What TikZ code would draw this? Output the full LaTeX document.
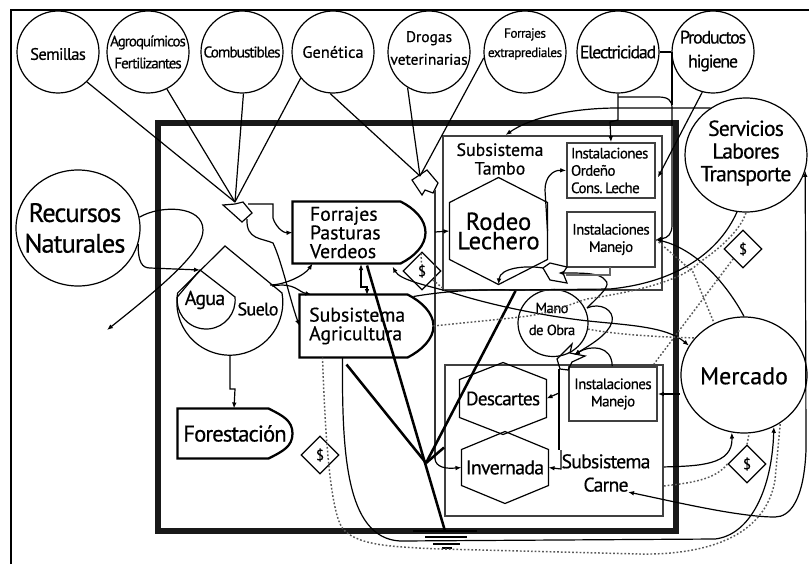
\documentclass[tikz,border=0pt]{standalone}
\usepackage{fontspec}
\setmainfont[FakeBold=0.5]{PT Sans}
\newfontfamily\tightfont[LetterSpace=-4,FakeBold=0.5]{PT Sans}
\newfontfamily\tighterfont[LetterSpace=-7,FakeBold=0.5]{PT Sans}
\usetikzlibrary{arrows.meta,shapes.geometric,calc}

\tikzset{every picture/.style={line width=0.75pt}}
\tikzset{
  input circle/.style={circle,draw,minimum size=61.5pt,inner sep=0pt,line width=0.9pt},
  big circle/.style={ellipse,draw,inner sep=0pt,line width=0.9pt},
  sub box/.style={rectangle,draw,inner sep=0pt,line width=1.4pt,draw=black!75},
  inst box/.style={rectangle,draw,inner sep=0pt,line width=1.2pt,draw=black!75,align=center,font=\tightfont\fontsize{11.3}{13}\selectfont},
  outline/.style={rectangle,inner sep=0pt,align=left},
  txt/.style={inner sep=0pt,align=center},
  money box/.style={diamond,draw,line width=0.9pt,minimum size=28.5pt,inner sep=0pt,font=\fontsize{11}{13}\selectfont},
  flow/.style={-{Latex[length=4.5pt,width=3.5pt]},line width=0.9pt},
  flowback/.style={{Latex[length=4.5pt,width=3.5pt]}-,line width=0.9pt},
  flowboth/.style={{Latex[length=4.5pt,width=3.5pt]}-{Latex[length=4.5pt,width=3.5pt]},line width=0.9pt},
  plain/.style={line width=0.9pt},
  heavy/.style={line width=1.9pt},
  money/.style={line width=1.1pt,black!65,dash pattern=on 1.3pt off 1.5pt},
}
\newcommand{\hexoutline}[2]{\draw[line width=0.9pt] (#1.north) -- ([shift={(0,#2)}]#1.north east) -- ([shift={(0,-#2)}]#1.south east) -- (#1.south) -- ([shift={(0,-#2)}]#1.south west) -- ([shift={(0,#2)}]#1.north west) -- cycle;}
\newcommand{\bulletoutline}[2]{\draw[line width=1.7pt] (#1.north west) -- ([shift={(-#2,0)}]#1.north east) .. controls +(14,7) and ([shift={(0,-13)}]#1.east) .. (#1.east) .. controls ([shift={(0,13)}]#1.east) and ([shift={(-#2+14,-7)}]#1.south east) .. ([shift={(-#2,0)}]#1.south east) -- (#1.south west) -- cycle;}

\begin{document}
\begin{tikzpicture}[x=0.75pt,y=0.75pt,yscale=-1]
\useasboundingbox (0,0) rectangle (809,564);

%Frames
\draw[line width=2.2pt] (11,564) -- (11,10) -- (809,10);
\draw[line width=5.2pt,black!90] (158,123) -- (676,123) -- (676,531) -- (158,531) -- cycle;

%Input circles
\node[input circle] (semillas) at (58,52) {};
\node[input circle] (agro) at (148,52) {};
\node[input circle] (combustibles) at (242,52) {};
\node[input circle] (genetica) at (333,52) {};
\node[input circle] (drogas) at (429,52) {};
\node[input circle] (extra) at (525,52) {};
\node[input circle] (electricidad) at (618,52) {};
\node[input circle] (productos) at (713,52) {};
\node[txt,font=\tightfont\fontsize{12.5}{14}\selectfont] (semillaslabel) at (58,54) {Semillas};
\node[txt,font=\tighterfont\fontsize{11.3}{16.5}\selectfont] (agrolabel) at (148,52) {Agroquímicos\\Fertilizantes};
\node[txt,font=\tighterfont\fontsize{11.6}{14}\selectfont] (combustibleslabel) at (242,52) {Combustibles};
\node[txt,font=\fontsize{12.3}{14}\selectfont] (geneticalabel) at (333,52) {Genética};
\node[txt,font=\fontsize{11.6}{17}\selectfont] (drogaslabel) at (429,48) {Drogas\\veterinarias};
\node[txt,font=\tightfont\fontsize{10}{14.5}\selectfont] (extralabel) at (525,44) {Forrajes\\extraprediales};
\node[txt,font=\tighterfont\fontsize{13.5}{14}\selectfont] (electricidadlabel) at (618,52) {Electricidad};
\node[txt,font=\tighterfont\fontsize{13.6}{18}\selectfont] (productoslabel) at (713,51) {Productos\\higiene};

%Outer circles
\node[big circle,minimum width=91.5pt,minimum height=85.5pt] (servicios) at (746,155) {};
\node[txt,font=\tightfont\fontsize{16.3}{17}\selectfont] (servicioslabel) at (746,153) {Servicios\\Labores\\Transporte};
\node[big circle,minimum width=93pt,minimum height=87pt] (recursos) at (78,228) {};
\node[txt,font=\tightfont\fontsize{20}{23}\selectfont] (recursoslabel) at (75,228) {Recursos\\Naturales};
\node[big circle,minimum width=94.5pt,minimum height=87pt] (mercado) at (744,375) {};
\node[txt,font=\fontsize{18}{20}\selectfont] (mercadolabel) at (744,376) {Mercado};
\node[big circle,minimum width=52.5pt,minimum height=50.25pt] (mano) at (553,323) {};
\node[txt,font=\tightfont\fontsize{11}{16.5}\selectfont] (manolabel) at (552,319) {Mano\\de Obra};

%Subsistema boxes
\node[sub box,minimum width=164.25pt,minimum height=115.5pt] (tambo) at (552.5,213) {};
\node[txt,font=\fontsize{13.4}{14}\selectfont] (tambolabel) at (500,159) {Subsistema\\Tambo};
\node[sub box,minimum width=163.5pt,minimum height=113.25pt] (carne) at (554,440.5) {};
\node[txt,font=\tightfont\fontsize{14.8}{17.5}\selectfont] (carnelabel) at (606,473) {Subsistema\\Carne};

%Instalaciones
\node[inst box,minimum width=66pt,minimum height=41.25pt] (ordeno) at (611,170.5) {\makebox[0pt]{\parbox{60pt}{Instalaciones\\Ordeño\\Cons.\,Leche}}};
\node[inst box,minimum width=66pt,minimum height=41.25pt] (manejotambo) at (611,239.5) {Instalaciones\\Manejo};
\node[inst box,minimum width=66pt,minimum height=40.5pt] (manejocarne) at (613,394) {Instalaciones\\Manejo};

%Hexagons
\node[txt,minimum width=72.75pt,minimum height=79.5pt,font=\fontsize{18.5}{14.5}\selectfont] (rodeo) at (498.5,231) {Rodeo\\Lechero};
\hexoutline{rodeo}{25}
\node[txt,minimum width=64.5pt,minimum height=53.25pt,font=\tightfont\fontsize{14.5}{17}\selectfont] (descartes) at (503,398.5) {Descartes};
\hexoutline{descartes}{17}
\node[txt,minimum width=64.5pt,minimum height=53.25pt,font=\tightfont\fontsize{15}{17}\selectfont] (invernada) at (505,467.5) {Invernada};
\hexoutline{invernada}{18}

%Bullets
\node[outline,minimum width=99pt,minimum height=45.75pt,text width=73.5pt,font=\fontsize{14.8}{14}\selectfont] (forrajes) at (359,232.5) {Forrajes\\Pasturas\\Verdeos};
\bulletoutline{forrajes}{25}
\node[outline,minimum width=99.75pt,minimum height=46.5pt,text width=86pt,font=\fontsize{14.8}{14}\selectfont] (agricultura) at (366.5,326) {Subsistema\\Agricultura};
\bulletoutline{agricultura}{26}
\node[txt,minimum width=85.5pt,minimum height=36.75pt,font=\tightfont\fontsize{17}{17}\selectfont] (forestacion) at (235,433.5) {Forestación};
\bulletoutline{forestacion}{24}

%Tanks
\coordinate (sueloapex) at (225,246);
\coordinate (aguaapex) at (200,270);
\coordinate (suelobottom) at (230,355);
\draw[line width=0.9pt] (sueloapex) -- (282,293) arc[start angle=-10,end angle=190,radius=53] -- cycle;
\draw[line width=0.9pt] (aguaapex) -- (235,297) arc[start angle=-6,end angle=186,radius=29] -- cycle;
\node[txt,font=\tightfont\fontsize{15}{14}\selectfont] (agua) at (205,300) {Agua};
\node[txt,font=\tightfont\fontsize{13.7}{14}\selectfont] (suelo) at (258,309) {Suelo};

%Money diamonds
\node[money box] (moneyforest) at (320,455) {\$};
\node[money box] (moneyservice) at (743,249) {\$};
\node[money box] (moneymarket) at (747,464) {\$};
\node[money box] (moneyforage) at (422,271) {\$};

%Gates
\draw[line width=0.9pt] (223,205) -- (235,204) -- (243,202) -- (252,213) -- (242,222) -- (232,213) -- cycle;
\draw[line width=0.9pt] (412,180) -- (427,170) -- (438,183) -- (433,193) -- (425,190) -- (422,195) -- cycle;
\draw[line width=0.9pt] (543,268) -- (550,263) -- (567,267) -- (563,273) -- (567,283) -- (550,280) -- cycle;
\draw[line width=0.9pt] (557,359) -- (572,344) -- (570,353) -- (585,356) -- (572,362) -- (568,370) -- (560,369) -- cycle;
\coordinate (gateone) at (235,202);
\coordinate (gateonea) at (248,204);
\coordinate (gateoneb) at (247,219);
\coordinate (gatetwo) at (420,176);
\coordinate (gatetwob) at (435,190);
\coordinate (gatethree) at (558,273);
\coordinate (gatethreeb) at (543,268);
\coordinate (gatefour) at (574,355);
\coordinate (gatefourb) at (559,369);

%Ground
\coordinate (groundtop) at (445,531);
\coordinate (earthjoin) at (426,463);
\draw[line width=1.8pt] (413,531) -- (477,531);
\draw[line width=1.8pt] (425,537) -- (467,537);
\draw[line width=1.6pt] (433,544) -- (460,544);
\draw[line width=1.4pt] (442,548) -- (452,548);

%Inputs
\draw[plain] (semillas.-46) -- (gateone);
\draw[plain] (agro.-63) -- (gateone);
\draw[plain] (combustibles.-88) -- (gateone);
\draw[plain] (genetica.-141) -- (gateone);
\draw[plain] (genetica.-94) -- (gatetwo);
\draw[plain] (drogas.-121) -- (gatetwo);
\draw[plain] (extra.-172) -- (gatetwo);
\draw[flow] (electricidad.south) -- (618,120) -- (610,122) -- (ordeno.north);
\draw[flow] (618,97) -- (658,97) .. controls (668,97) and (672,100) .. (672,108) -- (672,225) .. controls (672,234) and (668,238) .. (manejotambo.east);
\draw[plain] (electricidad.east) -- (productos.west);
\draw[plain] (672,52) -- (672,105);
\draw[flow] (productos.-105) -- ([shift={(2,7)}]ordeno.east);
\draw[flow] (servicios.127) -- (618,108) .. controls (570,108) and (530,118) .. ([shift={(-47,0)}]tambo.north);

%Recursos
\draw[flow] (recursos.10) .. controls (160,205) and (203,205) .. (203,230) .. controls (203,250) and (170,280) .. (107,330);
\draw[flow] (recursos.-15) .. controls (138,262) and (142,268) .. (150,268) -- (aguaapex);

%Gate outputs
\draw[flow] (gateonea) -- (273,204) -- (273,218) .. controls (275,225) and (282,233) .. (forrajes.west);
\draw[flow] (gateoneb) .. controls (246,240) and (262,238) .. (273,243) .. controls (282,262) and (290,300) .. (agricultura.west);
\draw[line width=1.3pt,black!80] (gatetwob) -- (435,459);
\draw[flow] (435,459) .. controls (436,467) and (445,469) .. (invernada.west);
\draw[flow] (435,232) -- (rodeo.west);
\draw[flow] (gatethreeb) .. controls (525,265) and (500,268) .. (rodeo.south);
\draw[flow] (587,308) .. controls (600,295) and (612,285) .. (605,280) .. controls (600,273) and (585,273) .. (gatethree);
\draw[flow] (587,308) .. controls (600,302) and (615,310) .. (612,322) .. controls (608,335) and (590,345) .. (gatefour);
\draw[flow] ([shift={(44,0)}]manejocarne.north west) .. controls (612,345) and (590,345) .. (gatefour);
\draw[plain,black!60] (610,267) -- (610,275) -- (566,275);
\draw[plain] (gatefourb) -- (559,450);
\draw[flow] (559,393) -- (descartes.east);
\draw[flow] (561,450) -- (561,469) -- (invernada.east);
\draw[flow] (rodeo.east) -- (545,190) .. controls (545,178) and (552,170) .. (ordeno.west);

%Suelo
\draw[flow] (270,285) .. controls (285,285) and (305,275) .. ([shift={(20,0)}]forrajes.south west);
\draw[flow] (272,286) .. controls (295,282) and (298,292) .. ([shift={(12,0)}]agricultura.north west);
\draw[flow] (suelobottom) -- (230,389) -- (235,389) -- ([shift={(-1,0)}]forestacion.north);
\draw[flowboth] (361,264) -- (361,287) -- (367,287) -- (367,295);

%Market flows
\draw[plain] (servicios.-99) .. controls (720,250) and (680,282) .. (610,289) -- (515,290) .. controls (470,289) and (440,292) .. ([shift={(-20,2)}]agricultura.north east);
\draw[flowboth] ([shift={(-33,3)}]forrajes.south east) .. controls (400,280) and (425,285) .. (450,292) .. controls (490,305) and (540,315) .. (580,320) .. controls (620,325) and (665,325) .. (mercado.152);
\draw[flowback] (manejotambo.east) .. controls (700,250) and (730,290) .. (mercado.north);
\draw[flow] ([shift={(0,-50)}]carne.south east) .. controls (700,466) and (733,465) .. (mercado.-102);
\draw[flowboth] (servicios.-15) -- (806,450) .. controls (804,500) and (790,517) .. (775,517) .. controls (740,517) and (680,503) .. (628,492);
\draw[flowback] (manejocarne.east) -- (mercado.west |- manejocarne.east);
\draw[flow] ([shift={(43,0)}]agricultura.south west) .. controls (342,450) and (345,538) .. (400,541) -- (715,539) .. controls (750,535) and (772,490) .. (mercado.-60);

%Earth
\draw[heavy] ([shift={(8,2)}]forrajes.south) -- (groundtop);
\draw[heavy] ([shift={(47,7)}]agricultura.south west) -- (earthjoin);
\draw[heavy] ([shift={(-37,0)}]tambo.south) -- (earthjoin);
\draw[heavy] ([shift={(0,7)}]carne.west) -- (earthjoin);

%Money flows
\draw[money] (agricultura.east) .. controls (470,322) and (495,320) .. (520,317) .. controls (550,314) and (570,304) .. (587,299) .. controls (625,293) and (680,283) .. (700,262) .. controls (715,252) and (740,232) .. (servicios.-90);
\draw[money] (manejotambo.east) -- (693,272) -- (mercado.120);
\draw[money] (moneyservice.-135) -- ([shift={(-10,0)}]carne.north east);
\draw[money] (mano.-10) .. controls (620,335) and (660,337) .. (mercado.143);
\draw[money] ([shift={(-4,-1)}]forrajes.south east) -- (moneyforage) -- (445,290);
\draw[money] ([shift={(23,0)}]agricultura.south west) .. controls (325,430) and (330,520) .. (345,531) .. controls (360,545) and (390,547) .. (441,549) -- (640,554) .. controls (700,555) and (765,540) .. (775,480) -- (mercado.-53);
\draw[money] ([shift={(0,-31)}]carne.south east) .. controls (690,483) and (715,480) .. (moneymarket.west);
\draw[money] (moneymarket.north) -- (mercado.-85);

\end{tikzpicture}
\end{document}
